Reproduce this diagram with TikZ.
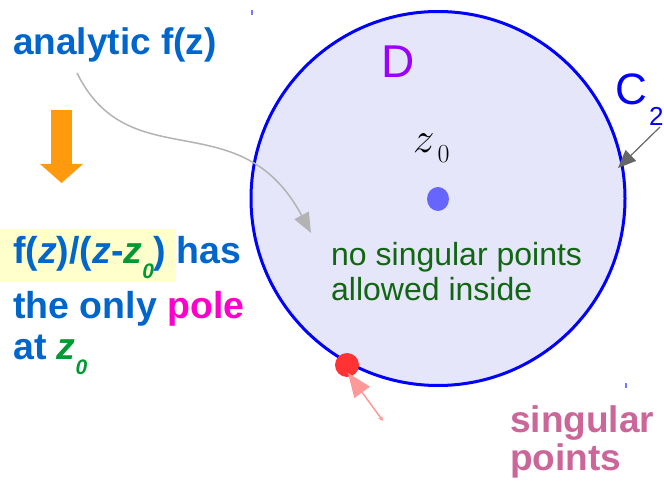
\documentclass[tikz,border=0pt]{standalone}
\usepackage{fix-cm}
\usepackage[no-math]{fontspec}
\setmainfont{Liberation Sans}
\usetikzlibrary{arrows.meta}
\definecolor{txtblue}{HTML}{0066CC}
\definecolor{circblue}{HTML}{0000FF}
\definecolor{fillc}{HTML}{E6E6FA}
\definecolor{zgreen}{HTML}{009933}
\definecolor{txtgreen}{HTML}{116611}
\definecolor{polemag}{HTML}{FF00CC}
\definecolor{singc}{HTML}{CC6699}
\definecolor{reddot}{HTML}{FF3333}
\definecolor{pinkarr}{HTML}{FF9999}
\definecolor{dotblue}{HTML}{6666FF}
\definecolor{dpurple}{HTML}{9900FF}
\definecolor{orangec}{HTML}{FF9A0F}
\definecolor{hilite}{HTML}{FFFFCC}
\definecolor{curvegray}{HTML}{B3B3B3}
\definecolor{darkgray}{HTML}{666666}
\definecolor{tick}{HTML}{7777FF}
\newcommand{\zsub}[1]{\textit{z}\raisebox{-15pt}{\fontsize{21}{21}\selectfont\textit{#1}}}
\tikzset{
  lbl/.style={inner sep=0pt, anchor=base west},
  bigtxt/.style={lbl, font=\fontsize{37.5}{40}\selectfont\bfseries, text=txtblue},
}
\begin{document}
\begin{tikzpicture}[x=1pt, y=-1pt]
\useasboundingbox (0,0) rectangle (664,481);
% marks
\fill[tick] (251,10) rectangle (253,15);
\fill[tick] (625,383) rectangle (627,388);
% domain
\node (dom) [circle, minimum size=374pt, inner sep=0pt, draw=circblue, line width=3pt, fill=fillc] at (438,198.5) {};
\node (Dlbl) [lbl, font=\fontsize{46}{46}\selectfont, text=dpurple] at (381,78) {D};
\node (Clbl) [lbl, font=\fontsize{44}{44}\selectfont, text=circblue] at (615,105) {C};
\node (C2sub) [lbl, font=\fontsize{26}{26}\selectfont, text=circblue] at (649,126) {2};
\coordinate (c2start) at (660,127);
\coordinate (c2tip) at (618,168);
\draw[darkgray, line width=1.2pt, -{Triangle[length=18pt,width=15pt]}] (c2start) -- (c2tip);
% z0
\node (zlbl) [lbl] at (413,153) {\fontsize{43}{43}\selectfont$z$\hspace{3pt}\fontsize{26}{26}\selectfont\raisebox{-10pt}{$0$}};
\fill[dotblue] (438,199) ellipse [x radius=11, y radius=12];
\node (dotz) at (438,199) {};
% inside text
\node (inside) [lbl, font=\fontsize{32}{35}\selectfont, text=txtgreen, align=left] at (331,300) {no singular points\\allowed inside};
% singular point
\node (sing) [circle, fill=reddot, minimum size=24pt, inner sep=0pt] at (347,365) {};
\coordinate (pinkstart) at (383,421);
\coordinate (pinktip) at (348,373);
\draw[pinkarr, line width=1.5pt, {Stealth[length=5pt,width=5pt]}-{Triangle[length=24pt,width=19pt]}] (pinkstart) -- (pinktip);
\node (singtxt) [lbl, font=\fontsize{37}{38}\selectfont\bfseries, text=singc, align=left] at (510,470) {singular\\points};
% left side
\node (analytic) [bigtxt, font=\fontsize{37}{40}\selectfont\bfseries] at (13,55) {analytic f(z)};
\fill[orangec] (51,110) rectangle (72,165);
\fill[orangec] (40,164) -- (83,164) -- (61.5,183) -- cycle;
\fill[hilite] (0,229) rectangle (176,282);
\node (l1) [bigtxt] at (13,263) {f(\textit{z})/(\textit{z}-{\color{zgreen}\zsub{0}}) has};
\node (l2) [bigtxt] at (13,318) {the only {\color{polemag}pole}};
\node (l3) [bigtxt] at (13,359) {at {\color{zgreen}\zsub{0}}};
% gray curve
\coordinate (cstart) at (77,73);
\coordinate (ctip) at (311,233);
\draw[curvegray, line width=1.5pt, -{Triangle[length=20pt,width=16pt]}] (cstart) .. controls (130,180) and (240,100) .. (ctip);
\end{tikzpicture}
\end{document}
